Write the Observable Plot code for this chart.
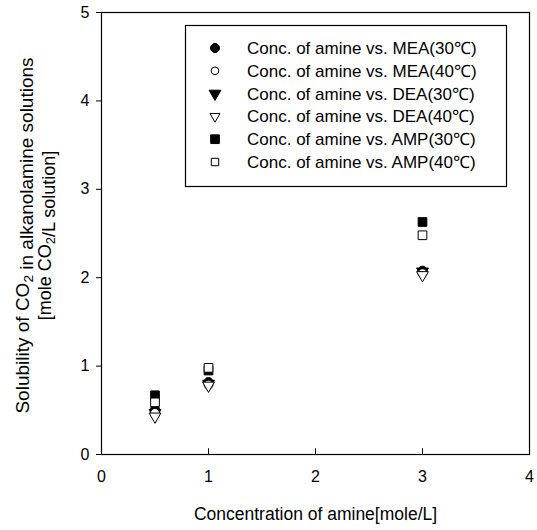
<!DOCTYPE html>
<html>
<head>
<meta charset="utf-8">
<script src="https://cdn.jsdelivr.net/npm/d3@7"></script>
<script src="https://cdn.jsdelivr.net/npm/@observablehq/plot@0.6"></script>
<style>
  html, body { margin: 0; padding: 0; background: #fff; }
  svg { font-family: "Liberation Sans", Arial, sans-serif; }
</style>
</head>
<body>
<div id="chart"></div>
<script>
// Amine concentrations (mole/L)
const concentrations = [0.5, 1, 3];

// CO2 solubility (mole CO2 / L solution) for each amine and temperature
const mea30 = [0.51, 0.82, 2.08];
const mea40 = [0.47, 0.79, 2.05];
const dea30 = [0.47, 0.80, 2.07];
const dea40 = [0.43, 0.78, 2.03];
const amp30 = [0.67, 0.95, 2.63];
const amp40 = [0.59, 0.98, 2.48];

const xTicks = [0, 1, 2, 3, 4];
const yTicks = [0, 1, 2, 3, 4, 5];

// series: label, values, symbol, filled?, rotation
const series = [
  {label: "Conc. of amine vs. MEA(30\u2103)", values: mea30, symbol: "circle", filled: true, rotate: 0},
  {label: "Conc. of amine vs. MEA(40\u2103)", values: mea40, symbol: "circle", filled: false, rotate: 0},
  {label: "Conc. of amine vs. DEA(30\u2103)", values: dea30, symbol: "triangle", filled: true, rotate: 180},
  {label: "Conc. of amine vs. DEA(40\u2103)", values: dea40, symbol: "triangle", filled: false, rotate: 180},
  {label: "Conc. of amine vs. AMP(30\u2103)", values: amp30, symbol: "square", filled: true, rotate: 0},
  {label: "Conc. of amine vs. AMP(40\u2103)", values: amp40, symbol: "square", filled: false, rotate: 0}
];

const drawOrder = [2, 0, 1, 3, 4, 5];
const symbolRadius = {circle: 4.5, triangle: 4.4, square: 4.9};

const dotMarks = drawOrder.map(i => {
  const s = series[i];
  const rows = concentrations.map((c, j) => ({x: c, y: s.values[j]}));
  return Plot.dot(rows, {
    x: "x", y: "y",
    symbol: () => s.symbol,
    r: symbolRadius[s.symbol],
    rotate: s.rotate,
    fill: s.filled ? "black" : "white",
    stroke: "black",
    strokeWidth: 1
  });
});

const chart = Plot.plot({
  width: 537,
  height: 530,
  marginLeft: 101,
  marginRight: 8,
  marginTop: 12,
  marginBottom: 76,
  style: {fontSize: "16px", fontFamily: "Liberation Sans, Arial, sans-serif", color: "black"},
  x: {domain: [0, 4]},
  y: {domain: [0, 5]},
  symbol: {type: "identity"},
  marks: [
    Plot.frame({stroke: "black", strokeWidth: 1.2}),
    Plot.axisX(xTicks, {tickSize: 0, tickPadding: 16, label: null, fontSize: 16, tickFormat: d3.format("d")}),
    Plot.ruleX(xTicks.slice(1, 4), {y1: 0, y2: 0.065, stroke: "black"}),
    Plot.axisY(yTicks, {tickSize: 5, tickPadding: 7, label: null, fontSize: 16, tickFormat: d3.format("d")}),
    Plot.text(["Concentration of amine[mole/L]"], {frameAnchor: "bottom", dy: 65, fontSize: 17.5}),
    Plot.text(["Solubility of CO2 in alkanolamine solutions"], {frameAnchor: "left", textAnchor: "middle", dx: -79, dy: 2, rotate: -90, fontSize: 19, className: "ytitle1"}),
    Plot.text(["[mole CO2/L solution]"], {frameAnchor: "left", textAnchor: "middle", dx: -56, dy: 2, rotate: -90, fontSize: 18, className: "ytitle2"}),
    ...dotMarks
  ]
});

// Subscript the "2" in CO2 within the axis titles
d3.select(chart).selectAll(".ytitle1 text, .ytitle2 text").each(function() {
  const t = d3.select(this);
  const txt = t.text();
  const parts = txt.split("CO2");
  t.text(null);
  parts.forEach((p, i) => {
    t.append("tspan").text(p);
    if (i < parts.length - 1) {
      t.append("tspan").text("CO");
      t.append("tspan").attr("dy", "0.3em").attr("font-size", "0.72em").text("2");
      t.append("tspan").attr("dy", "-0.3em").text("");
    }
  });
});

// Legend box inside the plot area
const svg = d3.select(chart);
const lg = svg.append("g")
  .attr("font-size", 17)
  .attr("text-anchor", "start")
  .attr("font-family", "Liberation Sans, Arial, sans-serif");
lg.append("rect")
  .attr("x", 185.5).attr("y", 25.5).attr("width", 321).attr("height", 161)
  .attr("fill", "white").attr("stroke", "black").attr("stroke-width", 1.2);
const symMap = {circle: d3.symbolCircle, triangle: d3.symbolTriangle, square: d3.symbolSquare};
series.forEach((s, i) => {
  const y = 48 + i * 22.8;
  const r = symbolRadius[s.symbol] * (s.filled ? 1 : 0.85);
  const path = d3.symbol(symMap[s.symbol], Math.PI * r * r)();
  lg.append("path")
    .attr("d", path)
    .attr("transform", `translate(215,${y}) rotate(${s.rotate})`)
    .attr("fill", s.filled ? "black" : "white")
    .attr("stroke", "black");
  lg.append("text").attr("x", 247).attr("y", y).attr("dy", "0.35em").text(s.label);
});

document.getElementById("chart").appendChild(chart);
</script>
</body>
</html>
